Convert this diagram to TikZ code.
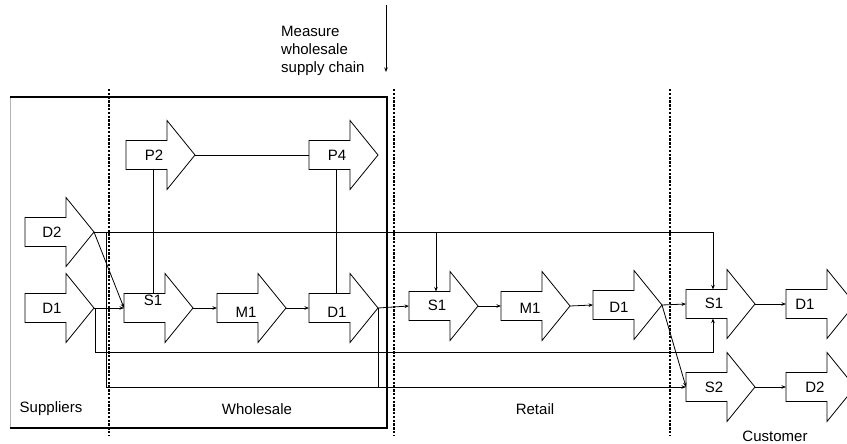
\documentclass[tikz,border=0pt]{standalone}
\usepackage{fontspec}
\setmainfont{Liberation Sans}
\usetikzlibrary{arrows.meta}
\begin{document}
\begin{tikzpicture}[x=1pt,y=-1pt,
  lbl/.style={font=\fontsize{15}{18}\selectfont, inner sep=0pt},
  conn/.style={line width=0.8pt},
  arr/.style={conn,-{Stealth[length=4.5pt,width=3.5pt]}},
  sepline/.style={line width=2.6pt,dash pattern=on 2.4pt off 1.4pt},
  pics/barrow/.style args={#1/#2/#3}{code={
    \draw[line width=0.8pt,fill=white] (0,-14.5) -- (41,-14.5) -- (41,-34.5) -- (69,0) -- (41,34.5) -- (41,14.5) -- (0,14.5) -- cycle;
    \coordinate (-tail) at (0,0);
    \coordinate (-tip) at (69,0);
    \coordinate (-n) at (27,-14.5);
    \coordinate (-s) at (27,14.5);
    \node[lbl] (-lab) at (#2,#3) {#1};
  }}]
\useasboundingbox (0,0) rectangle (847,444);

% measure box
\draw[gray!60,line width=0.8pt] (10,97) -- (10,428);
\draw[line width=1.2pt] (10,97) -- (387,97) -- (387,428) -- (10,428);

% separators
\draw[sepline] (109,89) -- (109,436);
\draw[sepline] (394,89) -- (394,436);
\draw[sepline] (670,89) -- (670,436);

% measure annotation
\node[lbl,align=left,anchor=west] (meas) at (281,51) {Measure\\wholesale\\supply chain};
\coordinate (mtop) at (386,5);
\coordinate (mbot) at (386,72);
\draw[arr] (mtop) -- (mbot);

% block arrows
\pic (p2) at (126,155) {barrow=P2/28/0};
\pic (p4) at (309,155) {barrow=P4/28/0};
\pic (sd2) at (25,232) {barrow=D2/27/0};
\pic (sd1) at (25,308) {barrow=D1/27/0};
\pic (ws1) at (124,308) {barrow=S1/29/-8};
\pic (wm1) at (217,308) {barrow=M1/29/4};
\pic (wd1) at (309,308) {barrow=D1/28/4};
\pic (rs1) at (409,306) {barrow=S1/28/-1};
\pic (rm1) at (501,306) {barrow=M1/29/2};
\pic (rd1) at (593,305) {barrow=D1/26/2};
\pic (cs1) at (686,304) {barrow=S1/28/-1};
\pic (cd1) at (786,304) {barrow=D1/19/0};
\pic (cs2) at (686,387) {barrow=S2/28/0};
\pic (cd2) at (786,387) {barrow=D2/29/0};

% connectors
\draw[conn] (p2-tip) -- (p4-tail);
\draw[conn] (p2-s) -- (p2-s |- ws1-n);
\draw[conn] (p4-s) -- (wd1-n);

\draw[arr] (sd2-tip) -- (ws1-tail);
\draw[arr] (sd2-tip) -- (cs1-n |- sd2-tip) -- (cs1-n);
\draw[arr] (rs1-n |- sd2-tip) -- (rs1-n);
\coordinate (j1) at (106,232);
\draw[arr] (j1) |- (cs2-tail);

\draw[arr] (sd1-tip) -- (ws1-tail);
\coordinate (j2) at (95,352);
\draw[arr] (sd1-tip) -| (j2) -| (cs1-s);

\draw[arr] (ws1-tip) -- (wm1-tail);
\draw[arr] (wm1-tip) -- (wd1-tail);
\draw[arr] (wd1-tip) -- (rs1-tail);
\draw[conn] (wd1-tip) -- (wd1-tip |- cs2-tail);

\draw[arr] (rs1-tip) -- (rm1-tail);
\draw[arr] (rm1-tip) -- (rd1-tail);
\draw[arr] (rd1-tip) -- (cs1-tail);
\draw[arr] (rd1-tip) -- (cs2-tail);

\draw[arr] (cs1-tip) -- (cd1-tail);
\draw[arr] (cs2-tip) -- (cd2-tail);

% region labels
\node[lbl] (lsup) at (51,409) {Suppliers};
\node[lbl] (lwho) at (257,409) {Wholesale};
\node[lbl] (lret) at (535,409) {Retail};
\node[lbl] (lcus) at (775,436) {Customer};
\end{tikzpicture}
\end{document}
